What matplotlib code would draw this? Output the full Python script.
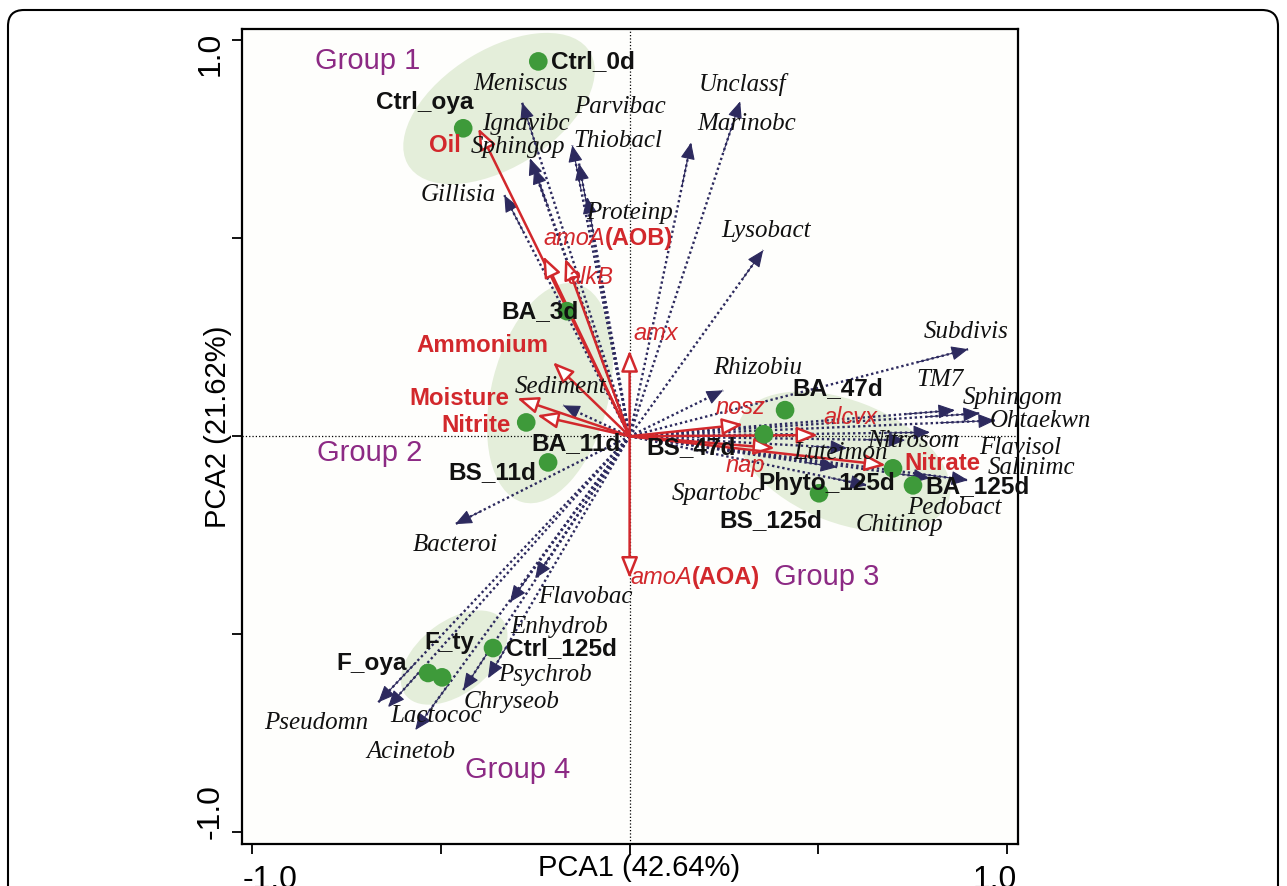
import matplotlib
matplotlib.use('Agg')
import matplotlib.pyplot as plt
from matplotlib.patches import Ellipse, FancyBboxPatch
from matplotlib.transforms import IdentityTransform

# samples (site scores)
samples = ['Ctrl_0d', 'Ctrl_oya', 'BA_3d', 'BA_11d', 'BS_11d', 'BA_47d', 'BS_47d',
           'Phyto_125d', 'BA_125d', 'BS_125d', 'F_oya', 'F_ty', 'Ctrl_125d']
sample_x = [-0.242, -0.441, -0.166, -0.274, -0.216, 0.412, 0.356,
            0.698, 0.751, 0.502, -0.534, -0.497, -0.362]
sample_y = [0.947, 0.778, 0.316, 0.035, -0.066, 0.066, 0.005,
            -0.081, -0.124, -0.144, -0.598, -0.609, -0.535]
sample_lx = [-0.097, -0.544, -0.237, -0.142, -0.364, 0.552, 0.163,
             0.523, 0.921, 0.375, -0.685, -0.478, -0.181]
sample_ly = [0.947, 0.843, 0.316, -0.018, -0.091, 0.121, -0.028,
             -0.119, -0.126, -0.212, -0.573, -0.520, -0.535]

# environmental variables / functional genes
env_names = ['Oil', 'amoA(AOB)', 'alkB', 'amx', 'Ammonium', 'Moisture', 'Nitrite',
             'nosz', 'alcvx', 'nap', 'Nitrate', 'amoA(AOA)']
env_x = [-0.401, -0.229, -0.171, 0.0, -0.203, -0.298, -0.245,
         0.301, 0.499, 0.385, 0.679, 0.0]
env_y = [0.778, 0.455, 0.449, 0.217, 0.187, 0.096, 0.053,
         0.030, 0.003, -0.030, -0.073, -0.359]
env_lx = [-0.489, -0.229, -0.105, 0.009, -0.391, -0.452, -0.407,
          0.295, 0.584, 0.306, 0.828, 0.001]
env_ly = [0.735, 0.500, 0.402, 0.260, 0.230, 0.096, 0.028,
          0.073, 0.048, -0.073, -0.068, -0.356]
env_kind = ['bold', 'gene', 'italic', 'italic', 'bold', 'bold', 'bold',
            'italic', 'italic', 'italic', 'bold', 'gene']

# genera (species scores)
taxa = ['Meniscus', 'Ignavibc', 'Sphingop', 'Gillisia', 'Parvibac', 'Thiobacl', 'Proteinp',
        'Unclassf', 'Marinobc', 'Lysobact', 'Sediment', 'Subdivis', 'Rhizobiu', 'TM7',
        'Sphingom', 'Ohtaekwn', 'Nitrosom', 'Flavisol', 'Luteimon', 'Salinimc', 'Pedobact',
        'Chitinop', 'Spartobc', 'Bacteroi', 'Flavobac', 'Enhydrob', 'Psychrob', 'Chryseob',
        'Lactococ', 'Pseudomn', 'Acinetob']
taxa_x = [-0.285, -0.264, -0.253, -0.332, -0.152, -0.134, -0.113,
          0.293, 0.163, 0.354, -0.176, 0.897, 0.248, 0.862,
          0.928, 0.968, 0.796, 0.730, 0.576, 0.897, 0.796,
          0.629, 0.550, -0.462, -0.250, -0.317, -0.375, -0.441,
          -0.640, -0.666, -0.568]
taxa_y = [0.843, 0.702, 0.679, 0.609, 0.735, 0.689, 0.604,
          0.846, 0.742, 0.470, 0.078, 0.220, 0.116, 0.066,
          0.058, 0.040, 0.010, -0.010, -0.030, -0.111, -0.106,
          -0.124, -0.078, -0.222, -0.359, -0.419, -0.611, -0.641,
          -0.684, -0.672, -0.742]
taxa_lx = [-0.290, -0.274, -0.295, -0.454, -0.025, -0.030, 0.001,
           0.298, 0.309, 0.362, -0.184, 0.891, 0.340, 0.823,
           1.016, 1.090, 0.751, 1.034, 0.558, 1.066, 0.862,
           0.714, 0.232, -0.462, -0.118, -0.187, -0.224, -0.314,
           -0.513, -0.830, -0.579]
taxa_ly = [0.889, 0.790, 0.730, 0.609, 0.831, 0.747, 0.563,
           0.889, 0.790, 0.518, 0.124, 0.263, 0.172, 0.141,
           0.096, 0.038, -0.013, -0.030, -0.043, -0.080, -0.182,
           -0.225, -0.146, -0.275, -0.407, -0.482, -0.604, -0.672,
           -0.707, -0.725, -0.798]

# groups
groups = ['Group 1', 'Group 2', 'Group 3', 'Group 4']
group_lx = [-0.693, -0.690, 0.521, -0.298]
group_ly = [0.949, -0.043, -0.356, -0.843]
ell_x = [-0.346, -0.211, 0.568, -0.465]
ell_y = [0.828, 0.109, -0.064, -0.559]
ell_w = [0.56, 0.57, 0.59, 0.32]
ell_h = [0.30, 0.31, 0.31, 0.185]
ell_ang = [30, 75, -20, 35]

red = '#D2282C'
navy = '#2D2A5E'
purple = '#8C2A84'
green = '#3E9A3A'
sans = 'Liberation Sans'
serif = 'Liberation Serif'

fig = plt.figure(figsize=(12.87, 8.86), dpi=100)
ax = fig.add_axes([0.1878, 0.0474, 0.6034, 0.9195])
ax.set_xlim(-1.028, 1.03)
ax.set_ylim(-1.03, 1.028)
ax.set_facecolor('#FEFEFC')

for i in range(len(groups)):
    ax.add_patch(Ellipse((ell_x[i], ell_y[i]), ell_w[i], ell_h[i], angle=ell_ang[i],
                         facecolor='#E4EEDA', edgecolor='none', zorder=0))
    ax.text(group_lx[i], group_ly[i], groups[i], color=purple, fontsize=21,
            family=sans, ha='center', va='center', zorder=6)

ax.axhline(0, color='black', ls=':', lw=0.9, zorder=1)
ax.axvline(0, color='black', ls=':', lw=0.9, zorder=1)

for i in range(len(taxa)):
    x, y = taxa_x[i], taxa_y[i]
    # dotted shaft, then a solid filled head at the tip
    ax.plot([0, x], [0, y], ls=(0, (1.0, 1.2)), lw=1.7, color=navy, zorder=2)
    ax.annotate('', xy=(x, y), xytext=(0.85 * x, 0.85 * y),
                arrowprops=dict(arrowstyle='-|>,head_length=0.65,head_width=0.28',
                                lw=0.8, color=navy, mutation_scale=16,
                                shrinkA=0, shrinkB=0),
                zorder=2)
    ax.text(taxa_lx[i], taxa_ly[i], taxa[i], family=serif, style='italic',
            fontsize=18, ha='center', va='center', color='#111111',
            clip_on=False, zorder=5)

for i in range(len(env_names)):
    ax.annotate('', xy=(env_x[i], env_y[i]), xytext=(0, 0),
                arrowprops=dict(arrowstyle='-|>,head_length=0.8,head_width=0.32',
                                lw=1.8, ec=red, fc='white',
                                mutation_scale=16, shrinkA=0, shrinkB=0),
                zorder=3)
    if env_kind[i] == 'gene':
        gene, extra = env_names[i].split('(')
        t = ax.text(env_lx[i], env_ly[i], gene, color=red, fontsize=17, family=sans,
                    style='italic', ha='left', va='center', zorder=6)
        ax.annotate('(' + extra, xy=(1, 0.5), xycoords=t, color=red, fontsize=17,
                    family=sans, weight='bold', ha='left', va='center', zorder=6)
    elif env_kind[i] == 'bold':
        ax.text(env_lx[i], env_ly[i], env_names[i], color=red, fontsize=17.3,
                family=sans, weight='bold', ha='center', va='center', zorder=6)
    else:
        ha = 'left' if env_names[i] == 'amx' else 'center'
        ax.text(env_lx[i], env_ly[i], env_names[i], color=red, fontsize=17,
                family=sans, style='italic', ha=ha, va='center', zorder=6)

ax.scatter(sample_x, sample_y, s=180, color=green, edgecolors='none', zorder=4)
for i in range(len(samples)):
    ax.text(sample_lx[i], sample_ly[i], samples[i], fontsize=17.6, family=sans,
            weight='bold', ha='center', va='center', color='#111111', zorder=6)

# axes frame and ticks
for s in ax.spines.values():
    s.set_linewidth(1.6)
ax.set_xticks([-1, -0.5, 0, 0.5, 1])
ax.set_yticks([-1, -0.5, 0, 0.5, 1])
ax.tick_params(direction='out', length=7, width=1.3, labelbottom=False, labelleft=False)

ax.text(-1.111, 0.965, '1.0', rotation=90, fontsize=23, family=sans,
        ha='center', va='center', clip_on=False)
ax.text(-1.111, -0.949, '-1.0', rotation=90, fontsize=23, family=sans,
        ha='center', va='center', clip_on=False)
ax.text(-0.952, -1.082, '-1.0', fontsize=23, family=sans,
        ha='center', va='top', clip_on=False)
ax.text(0.968, -1.082, '1.0', fontsize=23, family=sans,
        ha='center', va='top', clip_on=False)
ax.text(0.025, -1.09, 'PCA1 (42.64%)', fontsize=21, family=sans,
        ha='center', va='center', clip_on=False)
ax.text(-1.09, 0.025, 'PCA2 (21.62%)', rotation=90, fontsize=21, family=sans,
        ha='center', va='center', clip_on=False)

# rounded outer frame
frame = FancyBboxPatch((8, -30), 1270, 906, boxstyle='round,pad=0,rounding_size=16',
                       transform=IdentityTransform(), facecolor='none',
                       edgecolor='black', lw=1.5)
fig.patches.append(frame)

fig.savefig('out.png', dpi=100)
